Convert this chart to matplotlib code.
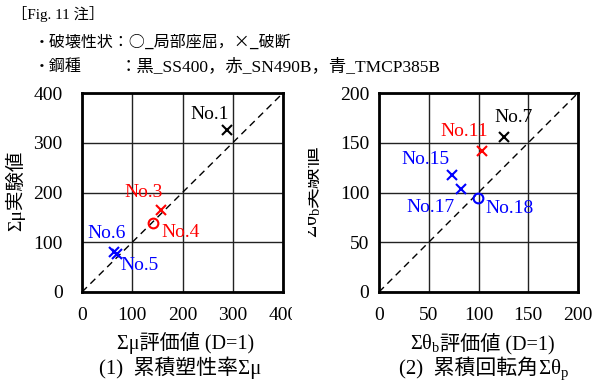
import matplotlib
matplotlib.use("Agg")
import matplotlib.pyplot as plt
from matplotlib.transforms import Bbox, TransformedBbox

plt.rcParams['font.family'] = ['Liberation Serif', 'Noto Sans CJK JP']
plt.rcParams['mathtext.fontset'] = 'custom'
plt.rcParams['mathtext.rm'] = 'Liberation Serif'
plt.rcParams['mathtext.it'] = 'Liberation Serif:italic'

# ── data ─────────────────────────────────────────────
# (1) cumulative plastic deformation ratio
mu_names = ["No.1", "No.3", "No.4", "No.6", "No.5"]
mu_eval  = [289, 158, 141, 64, 70]
mu_test  = [325, 165, 138, 81, 77]
mu_steel = ["SS400", "SN490B", "SN490B", "TMCP385B", "TMCP385B"]
mu_mode  = ["fracture", "fracture", "buckling", "fracture", "fracture"]

# (2) cumulative rotation angle
th_names = ["No.7", "No.11", "No.15", "No.17", "No.18"]
th_eval  = [126, 104, 73, 82, 99.5]
th_test  = [156, 142, 118, 104, 94]
th_steel = ["SS400", "SN490B", "TMCP385B", "TMCP385B", "TMCP385B"]
th_mode  = ["fracture", "fracture", "fracture", "fracture", "buckling"]

# label centres (data coords)
mu_lab_xy = [(255, 356), (123, 199), (197, 119), (48, 117), (115, 54)]
th_lab_xy = [(135, 175), (86, 161), (47, 133), (52, 85), (131, 84)]

steel_color = {"SS400": "black", "SN490B": "red", "TMCP385B": "blue"}

W, H = 596, 387
fig = plt.figure(figsize=(W / 100, H / 100), dpi=100)


def make_ax(left, right, top, bottom, lim, step, ypad):
    ax = fig.add_axes([left / W, 1 - bottom / H, (right - left) / W, (bottom - top) / H])
    ax.set_xlim(0, lim)
    ax.set_ylim(0, lim)
    ticks = list(range(0, lim + 1, step))
    ax.set_xticks(ticks)
    ax.set_yticks(ticks)
    ax.tick_params(length=0, labelsize=14)
    ax.tick_params(axis="x", pad=11)
    ax.tick_params(axis="y", pad=ypad)
    ax.grid(True, color="#222222", linewidth=1.0)
    ax.set_axisbelow(True)
    for s in ax.spines.values():
        s.set_linewidth(2.0)
    ax.plot([0, lim], [0, lim], color="black", linestyle=(0, (5, 3.5)), linewidth=1.0, zorder=2)
    return ax


def draw_points(ax, xs, ys, steel, mode, names, lab_xy):
    for x, y, st, md, nm, (lx, ly) in zip(xs, ys, steel, mode, names, lab_xy):
        c = steel_color[st]
        if md == "fracture":
            ax.plot(x, y, marker="x", color=c, markersize=7, mew=1.5, zorder=3)
        else:
            ax.plot(x, y, marker="o", mfc="none", mec=c, markersize=7, mew=1.5, zorder=3)
        ax.text(lx, ly, nm, color=c, fontsize=14, ha="center", va="center", zorder=4)


ax1 = make_ax(82, 283, 93, 292, 400, 100, 14)
draw_points(ax1, mu_eval, mu_test, mu_steel, mu_mode, mu_names, mu_lab_xy)

ax2 = make_ax(379, 578, 93, 292, 200, 50, 7)
draw_points(ax2, th_eval, th_test, th_steel, th_mode, th_names, th_lab_xy)

renderer = fig.canvas.get_renderer()


def text_row(x, y, parts, size, vertical=False, clip_x=None):
    """Place text pieces end to end on one baseline, centred at (x, y) in pixels."""
    objs = []
    for s in parts:
        t = fig.text(0, 0, s, fontsize=size, ha="left", va="baseline",
                     rotation=90 if vertical else 0, rotation_mode="anchor")
        objs.append(t)
    sizes = []
    for t in objs:
        bb = t.get_window_extent(renderer)
        sizes.append(bb.height if vertical else bb.width)
    total = sum(sizes)
    pos = (y + total / 2) if vertical else (x - total / 2)
    for t, s in zip(objs, sizes):
        if vertical:
            t.set_position((x / W, 1 - pos / H))
            pos -= s
        else:
            t.set_position((pos / W, 1 - y / H))
            pos += s
        if clip_x is not None:
            t.set_clip_box(TransformedBbox(Bbox([[clip_x / W, 0], [1, 1]]), fig.transFigure))
            t.set_clip_on(True)
    return objs


# axis labels
text_row(186, 349, ["Σμ評価値 (D=1)"], 14.5)
text_row(482, 349, [r"$\mathrm{Σθ_b}$", "評価値 (D=1)"], 14.5)
text_row(21, 191, ["Σμ実験値"], 14, vertical=True)
text_row(317, 191, [r"$\mathrm{Σθ_b}$", "実験値"], 15, vertical=True, clip_x=308)

# captions
text_row(180, 374, ["(1)  累積塑性率Σμ"], 15)
text_row(484, 374, ["(2)  累積回転角", r"$\mathrm{Σθ_p}$"], 15)

# legend notes at the top
fig.text(12 / W, 1 - 14 / H, "［Fig. 11 注］", fontsize=11, va="center")
fig.text(34 / W, 1 - 42 / H, "・破壊性状：○_局部座屈，×_破断", fontsize=11.5, va="center",
         family=["Noto Sans CJK JP", "Liberation Serif"])
fig.text(34 / W, 1 - 67 / H, "・鋼種", fontsize=11.5, va="center")
fig.text(120 / W, 1 - 67 / H, "：黒_SS400，赤_SN490B，青_TMCP385B", fontsize=12.5, va="center")

# the rightmost x tick of the left panel is cut at the panel edge
fig.canvas.draw()
lab = ax1.get_xticklabels()[-1]
lab.set_clip_box(TransformedBbox(Bbox([[0, 0], [292 / W, 1]]), fig.transFigure))
lab.set_clip_on(True)

fig.savefig("out.png", dpi=100)
